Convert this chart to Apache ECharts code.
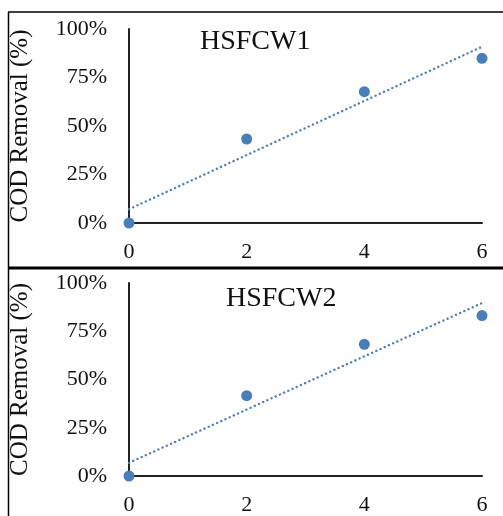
<!DOCTYPE html>
<html>
<head>
<meta charset="utf-8">
<script src="https://cdn.jsdelivr.net/npm/echarts@6/dist/echarts.min.js"></script>
<style>
  html, body { margin: 0; padding: 0; background: #fff; }
  #chart { width: 503px; height: 516px; }
</style>
</head>
<body>
<div id="chart"></div>
<script>
// time (x) and COD removal (%)
const days = [0, 2, 4, 6];
const cw1 = [0, 43.3, 67.7, 84.9];
const cw2 = [0, 41.6, 68.2, 83.1];
const panelNames = ['HSFCW1', 'HSFCW2'];
const yTicks = [0, 25, 50, 75, 100];

const FONT = '"Liberation Serif", "Times New Roman", serif';
const DOT = '#4a7ebb';

// linear trendline (least squares), same as the spreadsheet one
function trend(xs, ys) {
    let n = xs.length;
    let mx = xs.reduce((a, b) => a + b, 0) / n;
    let my = ys.reduce((a, b) => a + b, 0) / n;
    let sxy = 0, sxx = 0;
    for (let i = 0; i < n; i++) {
        sxy += (xs[i] - mx) * (ys[i] - my);
        sxx += (xs[i] - mx) * (xs[i] - mx);
    }
    let k = sxy / sxx;
    let b = my - k * mx;
    let x0 = xs[0], x1 = xs[n - 1];
    return [[x0, b + k * x0], [x1, b + k * x1]];
}

const grids = [
    {left: 127, right: 21, top: 29, height: 194},
    {left: 127, right: 21, top: 283, height: 193}
];
const titleLeft = [200, 226];
const titleTop = [28, 285];

let xAxis = [], yAxis = [], series = [], title = [];
[cw1, cw2].forEach(function(vals, i) {
    title.push({
        text: panelNames[i],
        left: titleLeft[i],
        top: titleTop[i],
        padding: 0,
        textStyle: {fontFamily: FONT, fontSize: 28, fontWeight: 'normal', color: '#111'}
    });
    xAxis.push({
        type: 'value',
        gridIndex: i,
        min: 0,
        max: 6,
        interval: 2,
        axisLine: {show: true, onZero: false, lineStyle: {color: '#222', width: 2}},
        axisTick: {show: false},
        splitLine: {show: false},
        axisLabel: {margin: 18, fontFamily: FONT, fontSize: 22, color: '#111'}
    });
    yAxis.push({
        type: 'value',
        gridIndex: i,
        min: yTicks[0],
        max: yTicks[yTicks.length - 1],
        interval: 25,
        name: 'COD Removal (%)',
        nameLocation: 'middle',
        nameGap: 96,
        nameTextStyle: {fontFamily: FONT, fontSize: 25, color: '#111'},
        axisLine: {show: true, lineStyle: {color: '#222', width: 2}},
        axisTick: {show: false},
        splitLine: {show: false},
        axisLabel: {margin: 22, fontFamily: FONT, fontSize: 22, color: '#111', formatter: '{value}%'}
    });
    // dotted trendline: round caps on near-zero dashes give separate dots
    series.push({
        type: 'line',
        xAxisIndex: i,
        yAxisIndex: i,
        data: trend(days, vals),
        symbol: 'none',
        silent: true,
        lineStyle: {color: DOT, width: 2.4, type: [0.1, 4.5], cap: 'round'},
        z: 2
    });
    series.push({
        type: 'scatter',
        xAxisIndex: i,
        yAxisIndex: i,
        data: days.map((d, j) => [d, vals[j]]),
        symbolSize: 11,
        itemStyle: {color: DOT, opacity: 1},
        z: 3
    });
});

const chart = echarts.init(document.getElementById('chart'), null, {renderer: 'canvas'});
chart.setOption({
    animation: false,
    backgroundColor: '#fff',
    title: title,
    grid: grids,
    xAxis: xAxis,
    yAxis: yAxis,
    series: series,
    graphic: [
        {type: 'line', shape: {x1: 8.5, y1: 12, x2: 8.5, y2: 516}, style: {stroke: '#000', lineWidth: 1.5}},
        {type: 'line', shape: {x1: 8, y1: 12, x2: 503, y2: 12}, style: {stroke: '#000', lineWidth: 1.5}},
        {type: 'line', shape: {x1: 8, y1: 268, x2: 503, y2: 268}, style: {stroke: '#000', lineWidth: 3}}
    ]
});
</script>
</body>
</html>
